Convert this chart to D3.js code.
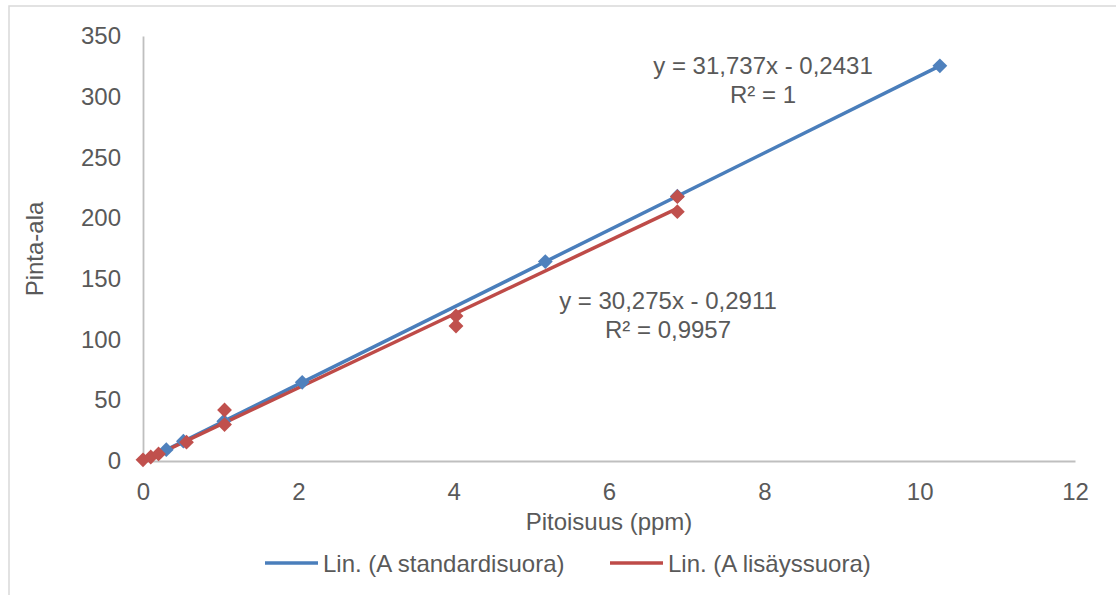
<!DOCTYPE html>
<html><head><meta charset="utf-8">
<script src="https://cdn.jsdelivr.net/npm/d3@7"></script>
<style>
html,body{margin:0;padding:0;background:#fff;}
text{font-family:"Liberation Sans",Arial,sans-serif;fill:#595959;}
</style></head>
<body>
<svg id="c" width="1116" height="595"></svg>
<script>
// Data
const stdX = [0.3, 0.52, 1.04, 2.05, 5.18, 6.88, 10.26];
const stdY = [9.3, 16.3, 32.8, 64.8, 164.2, 218.1, 325.4];
const addX = [0.0, 0.1, 0.2, 0.56, 1.05, 1.05, 4.03, 4.03, 6.88, 6.88];
const addY = [1.0, 3.3, 5.8, 15.5, 42.0, 30.0, 119.4, 111.2, 217.7, 205.3];
const trendSlopes = [31.737, 30.275];
const trendIntercepts = [-0.2431, -0.2911];
const trendLabels = ["y = 31,737x - 0,2431", "y = 30,275x - 0,2911"];
const r2Labels = ["R² = 1", "R² = 0,9957"];
const legendLabels = ["Lin. (A standardisuora)", "Lin. (A lisäyssuora)"];
const xTicks = [0, 2, 4, 6, 8, 10, 12];
const yTicks = [0, 50, 100, 150, 200, 250, 300, 350];
const xTitle = "Pitoisuus (ppm)";
const yTitle = "Pinta-ala";

const markerColors = ["#4f81bd", "#c0504d"];
const lineColors = ["#4a7ebb", "#be4b48"];

const svg = d3.select("#c");
svg.append("rect").attr("x", 9).attr("y", 6).attr("width", 1130).attr("height", 620)
  .attr("fill", "#fff").attr("stroke", "#d9d9d9").attr("stroke-width", 1.5);

const x = d3.scaleLinear().domain([0, 12]).range([143, 1075]);
const y = d3.scaleLinear().domain([0, 350]).range([461, 36]);

// axes
const xAxis = svg.append("g").attr("transform", `translate(0,${y(0)})`)
  .call(d3.axisBottom(x).tickValues(xTicks).tickSize(0).tickPadding(22).tickFormat(d3.format("d")));
xAxis.select(".domain").attr("stroke", "#bfbfbf").attr("stroke-width", 1.8);
xAxis.selectAll("text").attr("font-size", 24).attr("fill", "#595959")
  .style("font-family", '"Liberation Sans",Arial,sans-serif');

const yAxis = svg.append("g").attr("transform", `translate(${x(0)},0)`)
  .call(d3.axisLeft(y).tickValues(yTicks).tickSize(0).tickPadding(22).tickFormat(d3.format("d")));
yAxis.select(".domain").attr("stroke", "#bfbfbf").attr("stroke-width", 1.8);
yAxis.selectAll("text").attr("font-size", 24).attr("fill", "#595959")
  .style("font-family", '"Liberation Sans",Arial,sans-serif');

// trend lines
const series = [
  {xs: stdX, ys: stdY},
  {xs: addX, ys: addY}
];
series.forEach((s, i) => {
  const x0 = d3.min(s.xs), x1 = d3.max(s.xs);
  const f = v => trendSlopes[i] * v + trendIntercepts[i];
  svg.append("line")
    .attr("x1", x(x0)).attr("y1", y(f(x0)))
    .attr("x2", x(x1)).attr("y2", y(f(x1)))
    .attr("stroke", lineColors[i]).attr("stroke-width", 3.5);
});

// markers
const diamond = d3.symbol().type(d3.symbolDiamond2).size(140);
series.forEach((s, i) => {
  svg.append("g").selectAll("path").data(s.xs.map((v, k) => [v, s.ys[k]])).join("path")
    .attr("d", diamond)
    .attr("transform", d => `translate(${x(d[0])},${y(d[1])})`)
    .attr("fill", markerColors[i]);
});

// equations
const eqPos = [[763, 74], [668, 309]];
trendLabels.forEach((t, i) => {
  svg.append("text").attr("x", eqPos[i][0]).attr("y", eqPos[i][1])
    .attr("text-anchor", "middle").attr("font-size", 24).text(t);
  svg.append("text").attr("x", eqPos[i][0]).attr("y", eqPos[i][1] + 29)
    .attr("text-anchor", "middle").attr("font-size", 24).text(r2Labels[i]);
});

// axis titles
svg.append("text").attr("x", 609).attr("y", 530).attr("text-anchor", "middle")
  .attr("font-size", 24).text(xTitle);
svg.append("text").attr("transform", "translate(43,249) rotate(-90)")
  .attr("text-anchor", "middle").attr("font-size", 24).text(yTitle);

// legend
const legX = [265, 610];
legendLabels.forEach((t, i) => {
  svg.append("line").attr("x1", legX[i]).attr("x2", legX[i] + 53)
    .attr("y1", 563).attr("y2", 563)
    .attr("stroke", lineColors[i]).attr("stroke-width", 3.5);
  svg.append("text").attr("x", legX[i] + 58).attr("y", 571.5)
    .attr("font-size", 24).text(t);
});
</script>
</body></html>
